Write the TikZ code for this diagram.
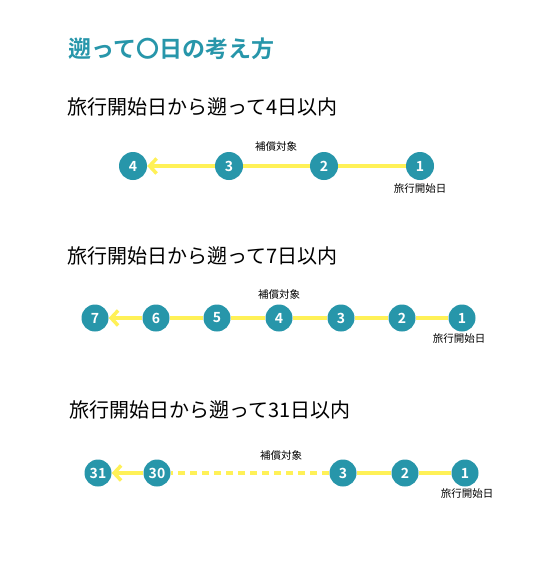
\documentclass[tikz,border=0pt]{standalone}
\usepackage{fontspec}
\setmainfont{Noto Sans CJK JP}[BoldFont=* Bold]
\usetikzlibrary{arrows.meta}
\definecolor{teal1}{HTML}{2796AA}
\definecolor{yel}{HTML}{FFF157}
\tikzset{
  day/.style={circle,fill=teal1,text=white,font=\bfseries\fontsize{14}{14}\selectfont,minimum size=#1,inner sep=0pt},
  day/.default=27pt,
  yline/.style={draw=yel,line width=3.5pt},
  yarrow/.style={yline,-{Straight Barb[length=7pt,width=15pt]}},
  ydash/.style={yline,dash pattern=on 7pt off 5pt},
  heading/.style={anchor=west,inner sep=0pt,font=\fontsize{20}{20}\selectfont},
  small/.style={inner sep=0pt,font=\fontsize{10.5}{10.5}\selectfont},
}
\begin{document}
\begin{tikzpicture}[x=1pt,y=-1pt]
\useasboundingbox[fill=white] (0,0) rectangle (557,571);
\node[anchor=west,inner sep=0pt,text=teal1,font=\bfseries\fontsize{23}{23}\selectfont] (title) at (68,49) {遡って〇日の考え方};

% section 1
\node[heading] (h1) at (67,107) {旅行開始日から遡って4日以内};
\node[day=28pt] (a1) at (420,166) {1};
\node[day=28pt] (a2) at (324,166) {2};
\node[day=28pt] (a3) at (229,166) {3};
\node[day=28pt] (a4) at (133,166) {4};
\draw[yline] (a1) -- (a2);
\draw[yline] (a2) -- (a3);
\draw[yarrow] (a3) -- (a4);
\node[small] (t1) at (276,147) {補償対象};
\node[small] (s1) at (420,189) {旅行開始日};

% section 2
\node[heading] (h2) at (67,256) {旅行開始日から遡って7日以内};
\node[day] (b1) at (462,318) {1};
\node[day] (b2) at (402,318) {2};
\node[day] (b3) at (341,318) {3};
\node[day] (b4) at (279,318) {4};
\node[day] (b5) at (217,318) {5};
\node[day] (b6) at (156,318) {6};
\node[day] (b7) at (95,318) {7};
\draw[yline] (b1) -- (b2);
\draw[yline] (b2) -- (b3);
\draw[yline] (b3) -- (b4);
\draw[yline] (b4) -- (b5);
\draw[yline] (b5) -- (b6);
\draw[yarrow] (b6) -- (b7);
\node[small] (t2) at (279,294) {補償対象};
\node[small] (s2) at (459,339) {旅行開始日};

% section 3
\node[heading] (h3) at (69,410) {旅行開始日から遡って31日以内};
\node[day] (c1) at (465,473) {1};
\node[day] (c2) at (405,473) {2};
\node[day] (c3) at (343,473) {3};
\node[day] (c30) at (157,473) {30};
\node[day] (c31) at (98,473) {31};
\draw[yline] (c1) -- (c2);
\draw[yline] (c2) -- (c3);
\draw[ydash] (c3) -- (c30);
\draw[yarrow] (c30) -- (c31);
\node[small] (t3) at (281,455) {補償対象};
\node[small] (s3) at (467,494) {旅行開始日};
\end{tikzpicture}
\end{document}
